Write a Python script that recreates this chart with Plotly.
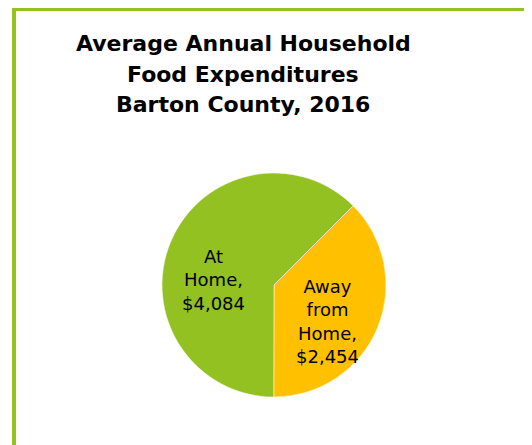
import plotly.graph_objects as go

# page body has an 8px margin, so the figure is a bit smaller and shifted
OFF = 8
W, H = 532 - OFF, 445 - OFF

labels = ["Away from Home", "At Home"]
values = [2454, 4084]
slice_text = ["Away<br>from<br>Home,<br>$2,454", "At<br>Home,<br>$4,084"]
slice_colors = ["#FFC000", "#92C121"]

title_lines = ["Average Annual Household", "Food Expenditures", "Barton County, 2016"]
border_color = "#92C121"


def px_x(x):
    return (x - OFF) / W


def px_y(y):
    return 1 - (y - OFF) / H


fig = go.Figure(go.Pie(labels=labels, values=values, textinfo="none",
                       marker=dict(colors=slice_colors, line=dict(color="white", width=0.5)),
                       sort=False, direction="clockwise", rotation=45,
                       domain=dict(x=[px_x(162), px_x(386)], y=[px_y(397), px_y(173)]),
                       hoverinfo="label+value"))

notes = []
# title lines placed one by one to get the wider line spacing
for i, line in enumerate(title_lines):
    notes.append(dict(text="<b>" + line + "</b>",
                      x=px_x(243), y=px_y(43.5 + 30.7 * i), xref="paper", yref="paper",
                      xanchor="center", yanchor="middle", showarrow=False,
                      font=dict(family="DejaVu Sans", size=22, color="black")))

# slice labels sit where the original chart put them
label_pos = [(327, 321), (213, 280)]
for txt, (lx, ly) in zip(slice_text, label_pos):
    notes.append(dict(text=txt, x=px_x(lx), y=px_y(ly), xref="paper", yref="paper",
                      xanchor="center", yanchor="middle", showarrow=False,
                      font=dict(family="DejaVu Sans", size=18, color="black")))

fig.update_layout(
    width=W, height=H, showlegend=False,
    margin=dict(l=0, r=0, t=0, b=0),
    paper_bgcolor="white", plot_bgcolor="white",
    annotations=notes,
    shapes=[dict(type="line", xref="paper", yref="paper",
                 x0=px_x(14), x1=px_x(14), y0=px_y(8), y1=px_y(460),
                 line=dict(color=border_color, width=4)),
            dict(type="line", xref="paper", yref="paper",
                 x0=px_x(12), x1=px_x(545), y0=px_y(9.5), y1=px_y(9.5),
                 line=dict(color=border_color, width=3))],
)

fig.write_html("out.html")
